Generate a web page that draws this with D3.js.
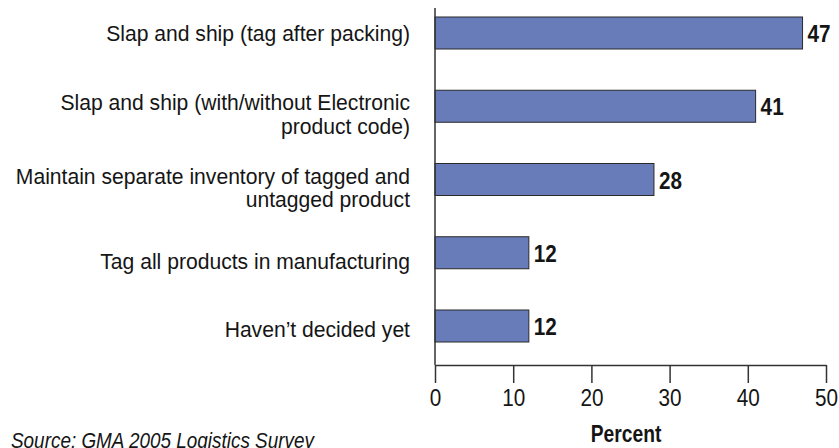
<!DOCTYPE html>
<html>
<head>
<meta charset="utf-8">
<script src="https://cdn.jsdelivr.net/npm/d3@7/dist/d3.min.js"></script>
<style>
  html, body { margin: 0; padding: 0; background: #fff; }
  svg { display: block; }
  text { font-family: "Liberation Sans", Arial, sans-serif; }
</style>
</head>
<body>
<svg id="chart" width="839" height="448"></svg>
<script>
// Survey responses: how companies plan to apply RFID tags
const categories = [
  "Slap and ship (tag after packing)",
  "Slap and ship (with/without Electronic|product code)",
  "Maintain separate inventory of tagged and|untagged product",
  "Tag all products in manufacturing",
  "Haven\u2019t decided yet"
];
const percents = [47, 41, 28, 12, 12];
const xTicks = [0, 10, 20, 30, 40, 50];
const axisTitle = "Percent";
const sourceNote = "Source: GMA 2005 Logistics Survey";

const svg = d3.select("#chart");
const x0 = 435, x1 = 826, axisY = 365;
const ink = "#151515", rule = "#333";

const x = d3.scaleLinear().domain([0, 50]).range([x0, x1]);
const y = d3.scaleBand()
  .domain(categories)
  .range([-3.625, 362.625])
  .paddingInner(0.563)
  .paddingOuter(0.2815);

// condensed-looking text: horizontally squeezed around its anchor point
function squeezed(parent, px, py, sx) {
  return parent.append("text")
    .attr("transform", `translate(${px},${py}) scale(${sx},1)`)
    .attr("fill", ink);
}

// per-label vertical nudge for the category text blocks
const labelNudge = [8, 4, 4, 16, 11];

// bars
svg.append("g").selectAll("rect")
  .data(percents)
  .join("rect")
  .attr("x", x(0))
  .attr("y", (d, i) => y(categories[i]))
  .attr("width", d => x(d) - x(0))
  .attr("height", y.bandwidth())
  .attr("fill", "#687cba")
  .attr("stroke", "#2a2a2a")
  .attr("stroke-width", 1);

// value labels
const valG = svg.append("g");
percents.forEach((d, i) => {
  squeezed(valG, x(d) + 5, y(categories[i]) + y.bandwidth() / 2 + 9, 0.9)
    .attr("font-size", 23)
    .attr("font-weight", "bold")
    .text(d);
});

// category labels (right aligned, may wrap onto two lines)
const catG = svg.append("g");
categories.forEach((c, i) => {
  const lines = c.split("|");
  const cy = y(c) + y.bandwidth() / 2 + labelNudge[i];
  const t = squeezed(catG, 410, cy, 0.96)
    .attr("text-anchor", "end")
    .attr("font-size", 22);
  lines.forEach((ln, k) => {
    t.append("tspan").attr("x", 0).attr("dy", k === 0 ? 0 : 24).text(ln);
  });
});

// x axis
const xAxis = d3.axisBottom(x).tickValues(xTicks).tickSize(18).tickPadding(7).tickSizeOuter(0);
const gx = svg.append("g")
  .attr("transform", `translate(0,${axisY})`)
  .call(xAxis);
gx.select(".domain").attr("stroke", rule).attr("stroke-width", 1.5);
gx.selectAll(".tick line").attr("stroke", rule).attr("stroke-width", 1.5);
gx.selectAll(".tick text")
  .attr("font-family", "Liberation Sans, Arial, sans-serif")
  .attr("font-size", 23)
  .attr("transform", "scale(0.9,1)")
  .attr("fill", ink);

// vertical baseline
svg.append("line")
  .attr("x1", x(0)).attr("x2", x(0))
  .attr("y1", 8).attr("y2", axisY)
  .attr("stroke", rule).attr("stroke-width", 1.5);

// axis title
squeezed(svg, 626, 442, 0.82)
  .attr("text-anchor", "middle")
  .attr("font-size", 23.5)
  .attr("font-weight", "bold")
  .text(axisTitle);

// source note
squeezed(svg, 11, 448, 0.86)
  .attr("font-size", 22)
  .attr("font-style", "italic")
  .text(sourceNote);
</script>
</body>
</html>
